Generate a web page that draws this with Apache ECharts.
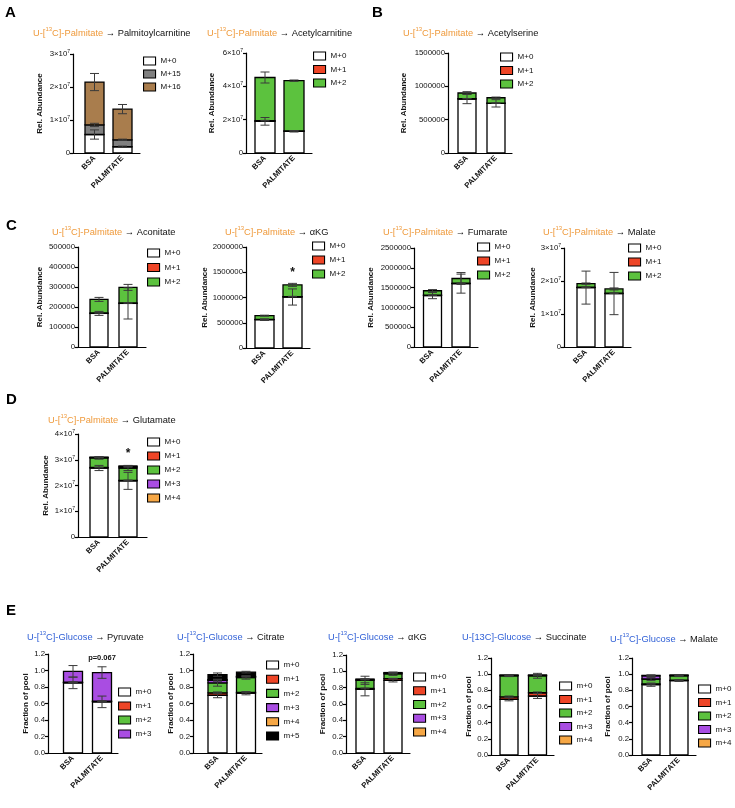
<!DOCTYPE html>
<html>
<head>
<meta charset="utf-8">
<script src="https://cdn.jsdelivr.net/npm/echarts@6/dist/echarts.min.js"></script>
<style>
  html, body { margin: 0; padding: 0; background: #fff; }
  #fig { width: 735px; height: 808px; }
</style>
</head>
<body>
<div id="fig"></div>
<script>
var FONT = "'Liberation Sans', Arial, sans-serif";
var groups = ['BSA', 'PALMITATE'];

// isotopologue names per panel
var isoCarn16 = ['M+0', 'M+15', 'M+16'];
var iso3 = ['M+0', 'M+1', 'M+2'];
var iso5 = ['M+0', 'M+1', 'M+2', 'M+3', 'M+4'];
var glc4 = ['m+0', 'm+1', 'm+2', 'm+3'];
var glc5 = ['m+0', 'm+1', 'm+2', 'm+3', 'm+4'];
var glc6 = ['m+0', 'm+1', 'm+2', 'm+3', 'm+4', 'm+5'];

// values, one row per isotopologue: [BSA, PALMITATE]
var palmitoylcarnitine = [[5.6e6, 1.9e6], [2.9e6, 2.1e6], [13.0e6, 9.3e6]];
var palmitoylcarnitineSd = [[1.4e6, 0.2e6], [0.5e6, 0.2e6], [2.6e6, 1.4e6]];

var acetylcarnitine = [[19.0e6, 13.0e6], [0.4e6, 0.3e6], [25.9e6, 30.1e6]];
var acetylcarnitineSd = [[2.3e6, 0.4e6], [0.2e6, 0.1e6], [3.3e6, 0.4e6]];

var acetylserine = [[810000, 745000], [4000, 4000], [86000, 80000]];
var acetylserineSd = [[70000, 55000], [2000, 2000], [20000, 10000]];

var aconitate = [[168000, 218000], [2000, 2000], [68000, 78000]];
var aconitateSd = [[10000, 78000], [1000, 1000], [10000, 15000]];

var akgPalm = [[560000, 1010000], [5000, 8000], [75000, 232000]];
var akgPalmSd = [[15000, 160000], [3000, 5000], [10000, 30000]];

var fumarate = [[1300000, 1600000], [10000, 10000], [110000, 120000]];
var fumarateSd = [[80000, 240000], [5000, 5000], [30000, 150000]];

var malatePalm = [[18.0e6, 16.2e6], [0.1e6, 0.1e6], [1.1e6, 1.3e6]];
var malatePalmSd = [[5.0e6, 6.4e6], [0.1e6, 0.1e6], [0.2e6, 0.3e6]];

var glutamate = [[26.8e6, 21.8e6], [0.2e6, 0.2e6], [3.7e6, 4.8e6], [0.2e6, 0.5e6], [0.1e6, 0.3e6]];
var glutamateSd = [[1.0e6, 3.3e6], [0.1e6, 0.1e6], [0.5e6, 1.0e6], [0.1e6, 0.2e6], [0.1e6, 0.1e6]];

var pyruvate = [[0.85, 0.62], [0.005, 0.005], [0.005, 0.005], [0.13, 0.345]];
var pyruvateSd = [[0.07, 0.07], [0.002, 0.002], [0.002, 0.002], [0.07, 0.07]];

var citrate = [[0.70, 0.725], [0.03, 0.01], [0.12, 0.18], [0.03, 0.01], [0.01, 0.005], [0.06, 0.05]];
var citrateSd = [[0.03, 0.02], [0.01, 0.005], [0.04, 0.02], [0.01, 0.005], [0.005, 0.005], [0.02, 0.01]];

var akgGlc = [[0.78, 0.89], [0.01, 0.02], [0.10, 0.06], [0.01, 0.01], [0.005, 0.005]];
var akgGlcSd = [[0.08, 0.02], [0.005, 0.005], [0.05, 0.02], [0.005, 0.005], [0.003, 0.003]];

var succinate = [[0.69, 0.73], [0.03, 0.04], [0.26, 0.21], [0.005, 0.005], [0.005, 0.005]];
var succinateSd = [[0.02, 0.03], [0.01, 0.01], [0.01, 0.03], [0.003, 0.003], [0.003, 0.003]];

var malateGlc = [[0.87, 0.92], [0.01, 0.005], [0.06, 0.055], [0.04, 0.005], [0.005, 0.005]];
var malateGlcSd = [[0.02, 0.01], [0.005, 0.003], [0.02, 0.01], [0.01, 0.003], [0.003, 0.003]];

var isoColors = {
  'M+0': '#ffffff', 'M+1': '#ee4527', 'M+2': '#5cc23e', 'M+3': '#a94de2',
  'M+4': '#f6a745', 'M+5': '#000000', 'M+15': '#808080', 'M+16': '#a97d4d'
};

// panels: data refs + layout in px (axis x, bar centres, axis end, top tick y, zero y)
var panels = [
  {tracer: 'pal', product: 'Palmitoylcarnitine', iso: isoCarn16, vals: palmitoylcarnitine, sd: palmitoylcarnitineSd,
   max: 3e7, step: 1e7, sci: true, yName: 'Rel. Abundance', nameGap: 29,
   box: {x: 73, c1: 94.5, c2: 122.5, end: 140, top: 54, zero: 153, bw: 19}, leg: {x: 143, y: 61, row: 13}, ttl: {x: 33, y: 33}},
  {tracer: 'pal', product: 'Acetylcarnitine', iso: iso3, vals: acetylcarnitine, sd: acetylcarnitineSd,
   max: 6e7, step: 2e7, sci: true, yName: 'Rel. Abundance', nameGap: 30,
   box: {x: 246, c1: 265, c2: 294, end: 312, top: 53, zero: 153, bw: 20}, leg: {x: 313, y: 56, row: 13.5}, ttl: {x: 207, y: 33}},
  {tracer: 'pal', product: 'Acetylserine', iso: iso3, vals: acetylserine, sd: acetylserineSd,
   max: 1500000, step: 500000, sci: false, yName: 'Rel. Abundance', nameGap: 40,
   box: {x: 448, c1: 467, c2: 496, end: 512, top: 53, zero: 153, bw: 18}, leg: {x: 500, y: 57, row: 13.5}, ttl: {x: 403, y: 33}},
  {tracer: 'pal', product: 'Aconitate', iso: iso3, vals: aconitate, sd: aconitateSd,
   max: 500000, step: 100000, sci: false, yName: 'Rel. Abundance', nameGap: 34,
   box: {x: 78, c1: 99, c2: 128, end: 146, top: 247, zero: 347, bw: 18}, leg: {x: 147, y: 253, row: 14.5}, ttl: {x: 52, y: 232}},
  {tracer: 'pal', product: '\u03b1KG', iso: iso3, vals: akgPalm, sd: akgPalmSd,
   max: 2000000, step: 500000, sci: false, yName: 'Rel. Abundance', nameGap: 37,
   box: {x: 246, c1: 264.5, c2: 292.5, end: 310, top: 247, zero: 348, bw: 19}, leg: {x: 312, y: 246, row: 14}, ttl: {x: 225, y: 232},
   note: {text: '*', y: 1.5e6, size: 12}},
  {tracer: 'pal', product: 'Fumarate', iso: iso3, vals: fumarate, sd: fumarateSd,
   max: 2500000, step: 500000, sci: false, yName: 'Rel. Abundance', nameGap: 39,
   box: {x: 414, c1: 432.5, c2: 461, end: 478, top: 248, zero: 347, bw: 18}, leg: {x: 477, y: 247, row: 14}, ttl: {x: 383, y: 232}},
  {tracer: 'pal', product: 'Malate', iso: iso3, vals: malatePalm, sd: malatePalmSd,
   max: 3e7, step: 1e7, sci: true, yName: 'Rel. Abundance', nameGap: 26,
   box: {x: 564, c1: 586, c2: 614, end: 631, top: 248, zero: 347, bw: 18}, leg: {x: 628, y: 248, row: 14}, ttl: {x: 543, y: 232}},
  {tracer: 'pal', product: 'Glutamate', iso: iso5, vals: glutamate, sd: glutamateSd,
   max: 4e7, step: 1e7, sci: true, yName: 'Rel. Abundance', nameGap: 28,
   box: {x: 78, c1: 99, c2: 128, end: 147, top: 434, zero: 537, bw: 18}, leg: {x: 147, y: 442, row: 14}, ttl: {x: 48, y: 420},
   note: {text: '*', y: 3.22e7, size: 12}},
  {tracer: 'glc', product: 'Pyruvate', iso: glc4, vals: pyruvate, sd: pyruvateSd,
   max: 1.2, step: 0.2, sci: false, dec: true, yName: 'Fraction of pool', nameGap: 12,
   box: {x: 48, c1: 73, c2: 102, end: 118, top: 654, zero: 753, bw: 19}, leg: {x: 118, y: 692, row: 14}, ttl: {x: 27, y: 637},
   note: {text: 'p=0.067', y: 1.15, size: 7.5}},
  {tracer: 'glc', product: 'Citrate', iso: glc6, vals: citrate, sd: citrateSd,
   max: 1.2, step: 0.2, sci: false, dec: true, yName: 'Fraction of pool', nameGap: 15,
   box: {x: 193, c1: 217.5, c2: 246, end: 262, top: 654, zero: 753, bw: 19}, leg: {x: 266, y: 665, row: 14.2}, ttl: {x: 177, y: 637}},
  {tracer: 'glc', product: '\u03b1KG', iso: glc5, vals: akgGlc, sd: akgGlcSd,
   max: 1.2, step: 0.2, sci: false, dec: true, yName: 'Fraction of pool', nameGap: 19,
   box: {x: 346, c1: 365, c2: 393, end: 410, top: 655, zero: 753, bw: 18}, leg: {x: 413, y: 677, row: 13.75}, ttl: {x: 328, y: 637}},
  {tracer: 'glc13', product: 'Succinate', iso: glc5, vals: succinate, sd: succinateSd,
   max: 1.2, step: 0.2, sci: false, dec: true, yName: 'Fraction of pool', nameGap: 18,
   box: {x: 491, c1: 509, c2: 537.5, end: 554, top: 658, zero: 755, bw: 18}, leg: {x: 559, y: 686, row: 13.5}, ttl: {x: 462, y: 637}},
  {tracer: 'glc', product: 'Malate', iso: glc5, vals: malateGlc, sd: malateGlcSd,
   max: 1.2, step: 0.2, sci: false, dec: true, yName: 'Fraction of pool', nameGap: 20,
   box: {x: 632, c1: 651, c2: 679, end: 696, top: 658, zero: 755, bw: 18}, leg: {x: 698, y: 689, row: 13.5}, ttl: {x: 610, y: 639}}
];

var panelLetters = [['A', 5, 5], ['B', 372, 5], ['C', 6, 218], ['D', 6, 392], ['E', 6, 603]];

var ORANGE = '#ef9a3c';
var BLUE = '#2f5fd6';
var titleRich = {
  o: {color: ORANGE, fontSize: 9.3, lineHeight: 13, fontFamily: FONT},
  os: {color: ORANGE, fontSize: 6, lineHeight: 13, verticalAlign: 'top', fontFamily: FONT},
  b: {color: BLUE, fontSize: 9.3, lineHeight: 13, fontFamily: FONT},
  bs: {color: BLUE, fontSize: 6, lineHeight: 13, verticalAlign: 'top', fontFamily: FONT},
  k: {color: '#111', fontSize: 9.3, lineHeight: 13, fontFamily: FONT}
};

function titleText(p) {
  var head;
  if (p.tracer === 'pal') head = '{o|U-[}{os|13}{o|C]-Palmitate}';
  else if (p.tracer === 'glc') head = '{b|U-[}{bs|13}{b|C]-Glucose}';
  else head = '{b|U-[13C]-Glucose}';
  return head + '{k| \u2192 ' + p.product + '}';
}

function sciLabel(v) {
  if (v === 0) return '0';
  var e = Math.floor(Math.log10(v) + 1e-9);
  var m = Math.round(v / Math.pow(10, e));
  return '{n|' + m + '\u00d710}{s|' + e + '}';
}

// stacked segment: [x, bottom, top]
function makeBarRenderer(bw) {
  return function (params, api) {
    var x = api.value(0);
    var p0 = api.coord([x, api.value(1)]);
    var p1 = api.coord([x, api.value(2)]);
    return {
      type: 'rect',
      shape: {x: p0[0] - bw / 2, y: p1[1], width: bw, height: p0[1] - p1[1]},
      style: api.style({stroke: '#000', lineWidth: 1.3})
    };
  };
}

// error bar: [x, centre, sd]
function renderErr(params, api) {
  var x = api.value(0), y = api.value(1), e = api.value(2);
  var hi = api.coord([x, y + e]);
  var lo = api.coord([x, y - e]);
  var w = 4.5;
  var st = {stroke: '#3a3a3a', lineWidth: 1};
  return {
    type: 'group',
    children: [
      {type: 'line', shape: {x1: hi[0], y1: hi[1], x2: lo[0], y2: lo[1]}, style: st},
      {type: 'line', shape: {x1: hi[0] - w, y1: hi[1], x2: hi[0] + w, y2: hi[1]}, style: st},
      {type: 'line', shape: {x1: lo[0] - w, y1: lo[1], x2: lo[0] + w, y2: lo[1]}, style: st}
    ]
  };
}

var option = {
  animation: false,
  backgroundColor: '#fff',
  textStyle: {fontFamily: FONT},
  title: [],
  grid: [],
  xAxis: [],
  yAxis: [],
  legend: [],
  series: []
};

panelLetters.forEach(function (l) {
  option.title.push({text: l[0], left: l[1], top: l[2], padding: 0,
    textStyle: {fontSize: 15, fontWeight: 'bold', color: '#000', fontFamily: FONT}});
});

panels.forEach(function (p, i) {
  var b = p.box;
  var unit = b.c2 - b.c1;

  option.title.push({
    text: titleText(p), left: p.ttl.x, top: p.ttl.y - 6.5, padding: 0,
    textStyle: {fontSize: 9.3, fontWeight: 'normal', rich: titleRich}
  });

  option.grid.push({left: b.x, top: b.top, width: b.end - b.x, height: b.zero - b.top,
    containLabel: false, outerBoundsMode: 'none'});

  option.xAxis.push({
    type: 'value', gridIndex: i,
    min: 1 - (b.c1 - b.x) / unit, max: 2 + (b.end - b.c2) / unit,
    splitLine: {show: false}, axisTick: {show: false},
    axisLine: {onZero: false, lineStyle: {color: '#000', width: 1.2}},
    axisLabel: {
      customValues: [1, 2],
      formatter: function (v) { return groups[Math.round(v) - 1] || ''; },
      rotate: 45, fontSize: 7.7, fontWeight: 'bold', color: '#111', margin: 4
    }
  });

  option.yAxis.push({
    type: 'value', gridIndex: i, min: 0, max: p.max, interval: p.step,
    splitLine: {show: false},
    axisLine: {show: true, lineStyle: {color: '#000', width: 1.2}},
    axisTick: {show: true, length: 3, lineStyle: {color: '#000', width: 1.2}},
    axisLabel: {
      fontSize: 7.8, color: '#111', margin: 3,
      formatter: p.sci ? sciLabel : (p.dec ? function (v) { return v.toFixed(1); } : function (v) { return String(v); }),
      rich: {n: {fontSize: 7.8, color: '#111'}, s: {fontSize: 5, color: '#111', verticalAlign: 'top', lineHeight: 10}}
    },
    name: p.yName, nameLocation: 'middle', nameGap: p.nameGap,
    nameTextStyle: {fontWeight: 'bold', fontSize: 8, color: '#111'}
  });

  option.legend.push({
    data: p.iso, orient: 'vertical', left: p.leg.x, top: p.leg.y - 5, padding: 0,
    itemWidth: 12, itemHeight: 8, itemGap: p.leg.row - 10, icon: 'rect', selectedMode: false,
    itemStyle: {borderColor: '#000', borderWidth: 1.1},
    textStyle: {fontSize: 8, color: '#111', lineHeight: 10}
  });

  var cum = [0, 0];
  var errData = [];
  p.iso.forEach(function (name, k) {
    var segs = p.vals[k].map(function (v, j) {
      var seg = [j + 1, cum[j], cum[j] + v];
      cum[j] += v;
      errData.push([j + 1, cum[j], p.sd[k][j]]);
      return seg;
    });
    var s = {
      type: 'custom', name: name, xAxisIndex: i, yAxisIndex: i,
      renderItem: makeBarRenderer(b.bw), data: segs, encode: {x: 0, y: [1, 2]},
      itemStyle: {color: isoColors[name.toUpperCase()], borderColor: '#000', borderWidth: 1},
      z: 2, silent: true
    };
    if (p.note && k === p.iso.length - 1) {
      s.markPoint = {
        symbol: 'rect', symbolSize: 1, itemStyle: {color: 'rgba(0,0,0,0)'}, silent: true,
        label: {show: true, position: 'inside', formatter: p.note.text, fontSize: p.note.size,
          fontWeight: 'bold', color: '#111'},
        data: [{coord: [2, p.note.y]}]
      };
    }
    option.series.push(s);
  });

  option.series.push({
    type: 'custom', name: 'sd' + i, xAxisIndex: i, yAxisIndex: i, renderItem: renderErr,
    data: errData, encode: {x: 0, y: 1}, z: 5, silent: true
  });
});

var chart = echarts.init(document.getElementById('fig'), null, {renderer: 'canvas'});
chart.setOption(option);
</script>
</body>
</html>
